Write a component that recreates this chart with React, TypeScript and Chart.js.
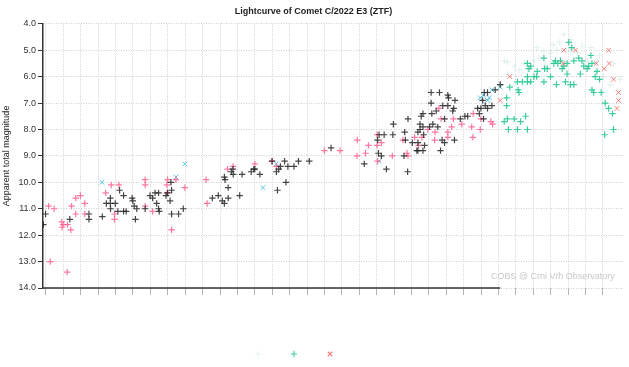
import React, { useEffect, useRef } from 'react';
import { Chart, registerables } from 'chart.js';

Chart.register(...registerables);

const TITLE = 'Lightcurve of Comet C/2022 E3 (ZTF)';
const Y_TITLE = 'Apparent total magnitude';
const WATERMARK = 'COBS @ Crni Vrh Observatory';

const MAG_MIN = 4;
const MAG_MAX = 14;
const DAY_MIN = -1.7;
const DAY_MAX = 332;
const DAY_STEP = 10;
const LAST_TICK_DAY = 320;
const AXIS_LINE_END_DAY = 261;

// [day, magnitude]
const blackObs: [number, number][] = [
  [-1.5, 11.6], [-0.2, 11.2], [13.7, 11.4], [24.7, 11.2], [24.7, 11.4], [32.4, 11.3], [34.7, 10.8], [37, 10.6],
  [37, 10.8], [37.1, 11.0], [39.8, 10.8], [41.3, 11.1], [42.3, 10.3], [44.6, 10.5], [44.6, 11.1], [46.1, 11.1],
  [49.5, 10.6], [49.9, 10.7], [50.7, 10.9], [51.4, 11.4], [52.2, 11.0], [57, 11.0], [59.8, 10.5], [61.3, 10.6],
  [62.7, 10.4], [63.6, 10.8], [64.7, 10.4], [64.7, 11.0], [65.1, 11.1], [69, 10.5], [69.9, 10.4], [71.3, 10.7],
  [71.8, 10.0], [72.2, 10.3], [72.2, 11.2], [76.2, 11.2], [78.9, 11.0], [95.6, 10.6], [99, 10.5], [101.3, 10.7],
  [102.5, 10.8], [102.5, 9.8], [102.9, 9.9], [104.7, 10.2], [104.7, 10.6], [106.5, 9.6], [107.4, 9.5], [107.6, 9.7],
  [112.7, 9.7], [111.3, 10.5], [117.9, 9.6], [119.4, 9.5], [120, 9.5], [122.9, 9.7], [129.9, 9.2], [132.4, 9.6],
  [133, 10.3], [133.7, 9.5], [134.7, 9.4], [137.1, 9.2], [137.9, 10.0], [139, 9.4], [142.5, 9.4], [145.1, 9.2],
  [151.3, 9.2], [163.8, 8.7], [182.9, 9.3], [191, 8.9], [192.7, 9.0], [195.6, 9.5], [205.7, 9.0], [207.8, 9.6],
  [213.1, 8.8], [216.6, 8.8], [226.7, 8.8], [190.5, 8.4], [191.4, 8.2], [194.3, 8.2], [199.3, 8.2], [199.6, 7.8],
  [206.5, 8.4], [206.1, 8.1], [208, 7.6], [210.5, 8.5], [213.7, 8.5], [214.9, 7.8], [214.9, 8.0], [215.6, 7.5],
  [217, 8.2], [217.5, 8.6], [220.4, 7.9], [221.3, 6.6], [221.3, 7.0], [221.7, 7.4], [224.2, 7.3], [225.1, 7.9],
  [226.1, 6.6], [229, 7.6], [227.6, 8.4], [229, 8.5], [230.9, 6.7], [231.3, 6.8], [230.9, 7.1], [234.3, 7.2],
  [235, 6.9], [234.7, 8.4], [238.1, 7.6], [240.7, 7.5], [249, 7.4], [250.9, 6.9], [251.8, 6.6], [249.9, 7.2],
  [251.4, 7.6], [252.4, 7.1], [253.7, 6.6], [258.1, 6.5], [261, 6.3], [248, 7.2], [253.7, 7.2], [256.2, 7.1],
  [216.6, 7.4], [228, 7.1], [233.7, 7.3], [242.3, 7.5], [213.7, 8.8], [216.6, 7.9], [222.3, 7.8], [213.7, 8.1],
];

const pinkObs: [number, number][] = [
  [1.5, 10.9], [2.5, 13.0], [4.7, 11.0], [9.1, 11.5], [9.3, 11.7], [9.9, 11.6], [12.2, 13.4], [12.4, 11.6],
  [14.3, 11.8], [14.7, 10.9], [17.1, 10.6], [17.1, 11.2], [19.8, 10.5], [22.3, 10.8], [22.3, 11.2], [34.3, 10.4],
  [37.5, 10.1], [39.4, 11.2], [39.4, 11.4], [41.9, 10.1], [57, 9.9], [57, 10.1], [57, 10.9], [61.3, 11.1],
  [69.9, 9.9], [69.5, 10.1], [69.5, 10.4], [72.2, 11.8], [74.7, 9.9], [79.8, 10.2], [92, 9.9], [92.6, 10.8],
  [104.4, 9.5], [107.6, 9.4], [120, 9.3], [132.4, 9.4], [129.9, 9.2], [160, 8.8], [169, 8.8], [178.9, 8.4],
  [185.3, 8.6], [178.7, 9.0], [183.6, 8.9], [190.3, 8.2], [192.7, 8.5], [190.3, 8.6], [190.5, 9.2], [199, 9.0],
  [207.4, 8.9], [208, 9.0], [205.1, 8.4], [211.8, 8.3], [214.1, 8.6], [216, 8.3], [219.4, 8.0], [223.3, 8.4],
  [223.6, 8.1], [225.7, 7.2], [230.9, 8.1], [230.9, 8.3], [234.1, 7.6], [233.1, 7.9], [238.9, 7.8], [244.6, 7.9],
  [245.3, 8.3], [245.5, 7.4], [249.5, 8.0], [255.6, 7.7], [256.6, 7.8], [249.9, 7.6], [227, 7.6],
];

const cyanObs: [number, number][] = [
  [32.2, 10.0], [74.7, 9.8], [79.8, 9.3], [124.7, 10.2], [132.4, 9.3], [191.4, 9.2], [249.5, 6.8], [254.7, 6.8],
  [256.2, 6.5], [253.7, 6.9], [261, 6.4], [251.4, 6.7],
];

const greenObs: [number, number][] = [
  [264.7, 6.8], [264.7, 7.1], [265.1, 7.6], [265.7, 8.0], [269, 7.6], [270.9, 8.0], [275.6, 7.5], [272.7, 7.7],
  [266.5, 6.4], [270.9, 6.2], [271.3, 6.5], [271.8, 6.6], [276.6, 6.2], [276.6, 6.0], [277.5, 5.7], [282.3, 5.8],
  [281.9, 6.0], [286.1, 5.3], [286.5, 5.7], [286.1, 6.2], [288, 5.7], [292.7, 5.4], [293.3, 6.3], [294.1, 5.5],
  [296.6, 5.7], [298.5, 6.2], [301.3, 6.3], [303.3, 6.3], [300.4, 4.7], [299.4, 5.5], [297.5, 5.6], [303.3, 5.4],
  [306.1, 5.3], [308, 5.4], [309, 5.6], [311.8, 5.6], [307, 5.9], [313.1, 5.2], [313.7, 6.5], [314.7, 6.6],
  [313.7, 5.5], [316.6, 5.8], [318.1, 6.1], [319, 6.6], [321.3, 7.0], [323.3, 7.2], [325.5, 7.4], [326.1, 8.0],
  [321, 8.2], [263.3, 7.7], [273.7, 6.2], [278.5, 6.2], [280.4, 6.0], [289.9, 6.0], [276.6, 5.5], [276.6, 8.0],
  [278.5, 5.6], [291.8, 5.5], [295.6, 5.4], [299.4, 5.9], [310.9, 5.7], [315.6, 6.0], [302.1, 4.9],
];

const redObs: [number, number][] = [
  [266.5, 6.0], [261, 6.9], [297.5, 5.0], [304.2, 5.0], [323.3, 5.0], [323.6, 5.5], [316.2, 5.5], [320.7, 5.7],
  [297.1, 5.5], [326.1, 6.1], [329, 6.6], [329, 6.9], [328, 7.2],
];

const faintObs: [number, number][] = [
  [297.6, 4.4], [293.7, 5.0], [301.3, 5.05], [305.1, 5.1], [289.9, 5.1], [286.1, 5.05], [280.4, 5.4], [274.7, 5.5],
  [269, 5.6], [265.1, 5.9], [310.9, 5.4], [316.6, 5.4], [320.4, 6.0], [324.2, 6.3], [328, 6.55], [326.1, 5.5],
  [308.1, 4.85], [295, 4.7], [283.3, 5.3], [276.6, 5.7], [271.8, 5.75], [329.9, 6.1], [263.3, 5.4], [265.1, 5.45],
  [291.4, 4.8], [313, 4.9], [318, 5.2], [282.3, 4.9], [301.1, 4.6], [287, 5.55],
];

const FONT = '"Liberation Sans", Arial, Helvetica, sans-serif';

const toPts = (arr: [number, number][]) => arr.map(([x, y]) => ({ x, y }));

const decorPlugin = {
  id: 'decor',
  beforeDatasetsDraw(chart: any) {
    const { ctx, chartArea, scales } = chart;
    ctx.save();
    ctx.strokeStyle = '#333';
    ctx.lineWidth = 1.5;
    ctx.beginPath();
    ctx.moveTo(chartArea.left, chartArea.bottom);
    ctx.lineTo(scales.x.getPixelForValue(AXIS_LINE_END_DAY), chartArea.bottom);
    ctx.stroke();
    ctx.font = '9px ' + FONT;
    ctx.fillStyle = '#c8c8c8';
    ctx.textAlign = 'right';
    ctx.textBaseline = 'middle';
    ctx.fillText(WATERMARK, chartArea.right - 9, chartArea.bottom - 11);
    ctx.restore();
  },
};

export default function App() {
  const ref = useRef<HTMLCanvasElement | null>(null);

  useEffect(() => {
    document.body.style.margin = '0';
    if (!ref.current) return;
    const mk = (data: [number, number][], color: string, style: string, radius: number, width: number) => ({
      data: toPts(data),
      borderColor: color,
      backgroundColor: color,
      pointStyle: style,
      pointRadius: radius,
      pointBorderWidth: width,
      showLine: false,
    });
    const datasets = [
      mk(blackObs, 'rgba(35,35,35,0.85)', 'cross', 3.2, 1.2),
      mk(pinkObs, 'rgba(255,95,140,0.85)', 'cross', 3.2, 1.2),
      mk(cyanObs, 'rgba(70,195,225,0.9)', 'crossRot', 3.3, 1.0),
      mk(redObs, 'rgba(240,105,95,0.85)', 'crossRot', 3.3, 1.0),
      mk(greenObs, 'rgba(40,200,145,0.9)', 'cross', 3.2, 1.2),
      mk(faintObs, 'rgba(170,215,200,0.3)', 'cross', 3.2, 1.2),
    ];
    const legendOrder = [5, 4, 3];

    const chart = new Chart(ref.current, {
      type: 'scatter',
      data: { datasets: datasets as any },
      plugins: [decorPlugin],
      options: {
        animation: false,
        responsive: false,
        layout: { padding: { left: 0, right: 2, top: 0, bottom: 0 } },
        plugins: {
          tooltip: { enabled: false },
          title: {
            display: true,
            text: TITLE,
            color: '#222',
            font: { family: FONT, size: 9, weight: 'bold' },
            padding: { top: 6, bottom: 7 },
          },
          legend: {
            position: 'bottom',
            onClick: () => {},
            labels: {
              usePointStyle: true,
              boxHeight: 4.5,
              padding: 27,
              font: { family: FONT, size: 6 },
              generateLabels: () => {
                const items: any[] = legendOrder.map((i) => ({
                  text: '',
                  fillStyle: (datasets[i] as any).backgroundColor,
                  strokeStyle: (datasets[i] as any).borderColor,
                  lineWidth: 1.1,
                  pointStyle: (datasets[i] as any).pointStyle,
                  hidden: false,
                  datasetIndex: i,
                }));
                items.push({
                  text: '',
                  fillStyle: 'rgba(0,0,0,0)',
                  strokeStyle: 'rgba(0,0,0,0)',
                  lineWidth: 0,
                  pointStyle: 'cross',
                  hidden: false,
                  datasetIndex: -1,
                });
                return items;
              },
            },
          },
        },
        scales: {
          x: {
            type: 'linear',
            min: DAY_MIN,
            max: DAY_MAX,
            afterBuildTicks: (s: any) => {
              s.ticks = s.ticks.filter((t: any) => t.value >= 0 && t.value <= LAST_TICK_DAY);
            },
            afterFit: (s: any) => {
              s.height = 36;
            },
            ticks: { display: false, stepSize: DAY_STEP, includeBounds: false } as any,
            grid: { color: '#cfcfcf', tickColor: '#b5b5b5', tickLength: 7, lineWidth: 1 },
            border: { display: false, dash: [1, 1.5] },
          },
          y: {
            type: 'linear',
            reverse: true,
            min: MAG_MIN,
            max: MAG_MAX,
            afterFit: (s: any) => {
              s.width = 43;
            },
            ticks: {
              stepSize: 1,
              callback: (v: any) => Number(v).toFixed(1),
              color: '#333',
              font: { family: FONT, size: 9 },
              padding: 2,
            },
            grid: { color: '#cfcfcf', tickColor: '#333', tickLength: 5, lineWidth: 1 },
            border: { display: true, color: '#333', width: 1.5, dash: [1, 1.5] },
            title: {
              display: true,
              text: Y_TITLE,
              color: '#222',
              font: { family: FONT, size: 9 },
              padding: 1,
            },
          },
        },
      } as any,
    });
    return () => chart.destroy();
  }, []);

  return (
    <div style={{ width: 629, height: 367 }}>
      <canvas ref={ref} width={629} height={367} style={{ display: 'block' }} />
    </div>
  );
}
